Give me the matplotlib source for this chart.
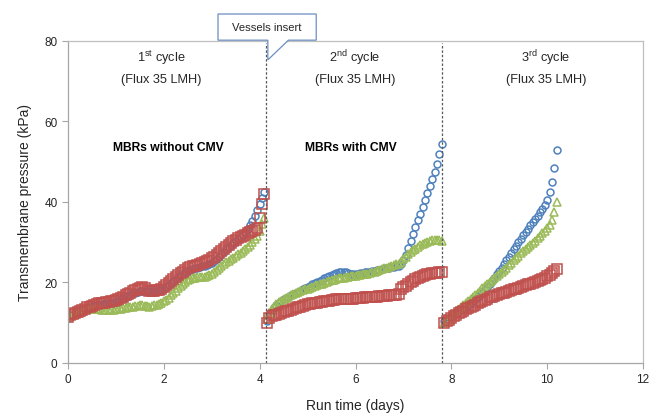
import numpy as np
import matplotlib
matplotlib.use("Agg")
import matplotlib.pyplot as plt
from matplotlib.patches import Polygon

plt.rcParams['font.family'] = ['Liberation Sans', 'DejaVu Sans']
plt.rcParams['mathtext.fontset'] = 'custom'
plt.rcParams['mathtext.rm'] = 'Liberation Sans'

# sampling times of each cycle (days)
t1 = np.round(np.arange(0.0, 4.101, 0.05), 2)
t2 = np.round(np.arange(4.15, 7.801, 0.05), 2)
t3 = np.round(np.arange(7.85, 10.201, 0.05), 2)

# 1st cycle - TMP (kPa)
blue1 = [11.3, 11.6, 11.9, 12.2, 12.5, 12.8, 13.0, 13.3, 13.6, 13.8,
         14.0, 14.2, 14.4, 14.5, 14.6, 14.7, 14.8, 14.9, 15.0, 15.1,
         15.3, 15.5, 15.8, 16.1, 16.4, 16.7, 17.0, 17.3, 17.5, 17.7,
         17.8, 17.9, 17.9, 17.8, 17.8, 17.8, 17.9, 18.0, 18.1, 18.2,
         18.4, 18.8, 19.3, 19.8, 20.3, 20.8, 21.3, 21.7, 22.1, 22.5,
         22.8, 23.1, 23.3, 23.5, 23.6, 23.8, 24.0, 24.2, 24.4, 24.6,
         24.9, 25.3, 25.8, 26.4, 27.0, 27.6, 28.2, 28.8, 29.3, 29.8,
         30.3, 30.8, 31.3, 31.9, 32.6, 33.4, 34.3, 35.3, 36.5, 38.0,
         39.5, 41.0, 42.5]
green1 = [11.5, 11.8, 12.0, 12.3, 12.5, 12.8, 13.0, 13.2, 13.4, 13.5,
          13.5, 13.5, 13.4, 13.3, 13.2, 13.2, 13.1, 13.1, 13.1, 13.2,
          13.3, 13.4, 13.5, 13.6, 13.7, 13.8, 13.9, 14.0, 14.1, 14.2,
          14.3, 14.3, 14.2, 14.1, 14.0, 14.1, 14.3, 14.5, 14.7, 15.0,
          15.3, 15.7, 16.2, 16.8, 17.4, 18.0, 18.6, 19.2, 19.7, 20.2,
          20.6, 20.9, 21.1, 21.2, 21.3, 21.3, 21.3, 21.4, 21.6, 21.9,
          22.2, 22.6, 23.0, 23.5, 24.0, 24.5, 25.0, 25.4, 25.8, 26.2,
          26.6, 27.0, 27.4, 27.8, 28.2, 28.7, 29.3, 30.0, 30.8, 31.6,
          32.8, 34.5, 36.0]
red1 = [11.5, 11.8, 12.1, 12.4, 12.7, 13.0, 13.2, 13.5, 13.8, 14.0,
        14.2, 14.4, 14.6, 14.8, 14.9, 15.0, 15.1, 15.2, 15.3, 15.4,
        15.6, 15.9, 16.2, 16.5, 16.8, 17.1, 17.4, 17.8, 18.2, 18.5,
        18.7, 18.8, 18.6, 18.2, 18.0, 17.9, 18.0, 18.1, 18.2, 18.4,
        18.8, 19.3, 19.8, 20.3, 20.8, 21.3, 21.8, 22.3, 22.7, 23.1,
        23.5, 23.8, 24.0, 24.2, 24.4, 24.6, 24.8, 25.1, 25.4, 25.7,
        26.0, 26.4, 26.8, 27.3, 27.8, 28.3, 28.8, 29.3, 29.8, 30.2,
        30.6, 31.0, 31.3, 31.6, 31.9, 32.2, 32.5, 32.8, 33.0, 33.5,
        36.0, 39.5, 42.0]

# 2nd cycle
blue2 = [10.5, 11.8, 12.8, 13.6, 14.3, 14.9, 15.4, 15.8, 16.2, 16.5,
         16.8, 17.1, 17.4, 17.7, 18.0, 18.3, 18.6, 18.9, 19.2, 19.5,
         19.8, 20.1, 20.4, 20.7, 21.0, 21.3, 21.6, 21.9, 22.1, 22.3,
         22.5, 22.6, 22.6, 22.5, 22.3, 22.2, 22.1, 22.1, 22.2, 22.3,
         22.4, 22.5, 22.6, 22.7, 22.8, 22.9, 23.0, 23.2, 23.4, 23.5,
         23.6, 23.7, 23.8, 23.9, 24.0, 24.1, 24.5, 25.5, 26.8, 28.5,
         30.2, 32.0, 33.7, 35.4, 37.1, 38.8, 40.5, 42.2, 43.9, 45.6,
         47.5, 49.5, 51.8, 54.5]
green2 = [11.0, 12.3, 13.3, 14.0, 14.6, 15.1, 15.5, 15.9, 16.2, 16.5,
          16.8, 17.1, 17.4, 17.7, 17.9, 18.1, 18.3, 18.5, 18.7, 18.9,
          19.1, 19.3, 19.5, 19.7, 19.9, 20.1, 20.3, 20.5, 20.7, 20.9,
          21.0, 21.1, 21.2, 21.3, 21.4, 21.5, 21.6, 21.7, 21.8, 21.9,
          22.0, 22.1, 22.2, 22.3, 22.5, 22.7, 22.9, 23.1, 23.3, 23.5,
          23.7, 23.9, 24.1, 24.3, 24.5, 24.7, 25.1, 25.8, 26.4, 27.0,
          27.5, 28.0, 28.4, 28.8, 29.2, 29.5, 29.8, 30.1, 30.3, 30.5,
          30.6, 30.6, 30.5, 30.4]
red2 = [10.0, 11.2, 11.6, 11.8, 12.0, 12.2, 12.4, 12.6, 12.8, 13.0,
        13.2, 13.4, 13.6, 13.8, 14.0, 14.2, 14.4, 14.6, 14.7, 14.8,
        14.9, 15.0, 15.1, 15.2, 15.3, 15.4, 15.5, 15.6, 15.7, 15.8,
        15.9, 16.0, 16.0, 16.0, 16.0, 16.0, 16.0, 16.1, 16.1, 16.2,
        16.2, 16.3, 16.3, 16.4, 16.4, 16.5, 16.5, 16.6, 16.6, 16.7,
        16.7, 16.8, 16.8, 16.9, 17.0, 17.2, 18.3, 18.8, 19.2, 19.6,
        20.0, 20.4, 20.8, 21.1, 21.4, 21.7, 21.9, 22.1, 22.2, 22.3,
        22.4, 22.4, 22.5, 22.5]

# 3rd cycle
blue3 = [10.5, 10.8, 11.2, 11.6, 12.0, 12.4, 12.8, 13.2, 13.6, 14.0,
         14.4, 14.8, 15.3, 15.8, 16.3, 16.9, 17.5, 18.1, 18.8, 19.6,
         20.4, 21.2, 22.0, 22.8, 23.7, 24.6, 25.5, 26.4, 27.3, 28.2,
         29.1, 30.0, 30.9, 31.8, 32.6, 33.4, 34.2, 35.0, 35.8, 36.6,
         37.4, 38.3, 39.3, 40.5, 42.5, 45.0, 48.5, 52.8]
green3 = [10.0, 10.6, 11.2, 11.8, 12.4, 13.0, 13.5, 14.0, 14.5, 15.0,
          15.5, 16.0, 16.5, 17.0, 17.5, 18.0, 18.6, 19.1, 19.6, 20.1,
          20.6, 21.1, 21.6, 22.1, 22.6, 23.1, 23.7, 24.3, 24.9, 25.5,
          26.1, 26.7, 27.3, 27.9, 28.4, 28.9, 29.4, 29.9, 30.4, 31.0,
          31.6, 32.2, 32.8, 33.5, 34.4, 35.6, 37.5, 40.0]
red3 = [10.0, 10.4, 10.8, 11.2, 11.6, 12.0, 12.4, 12.7, 13.0, 13.3,
        13.6, 13.9, 14.2, 14.5, 14.8, 15.1, 15.4, 15.7, 16.0, 16.3,
        16.5, 16.7, 16.9, 17.1, 17.3, 17.5, 17.7, 17.9, 18.1, 18.3,
        18.5, 18.7, 18.9, 19.1, 19.3, 19.5, 19.7, 19.9, 20.1, 20.3,
        20.6, 20.9, 21.2, 21.5, 21.9, 22.3, 22.8, 23.4]

vessel_days = [4.13, 7.81]
x_ticks = [0, 2, 4, 6, 8, 10, 12]
y_ticks = [0, 20, 40, 60, 80]

BLUE = '#4F81BD'
GREEN = '#9BBB59'
RED = '#C0504D'

fig = plt.figure(figsize=(6.51, 4.14), dpi=100)
ax = fig.add_axes([0.1045, 0.1208, 0.8832, 0.7778])

# markers - hollow, like the excel scatter
for t, b, g, r in [(t1, blue1, green1, red1), (t2, blue2, green2, red2), (t3, blue3, green3, red3)]:
    ax.plot(t, b, 'o', ms=5, mfc='none', mec=BLUE, mew=1.1)
    ax.plot(t, g, '^', ms=5.5, mfc='none', mec=GREEN, mew=1.1)
    ax.plot(t, r, 's', ms=6.5, mfc='none', mec=RED, mew=1.1)

# dashed lines where the vessels were inserted
for d in vessel_days:
    ax.axvline(d, ymin=0, ymax=0.995, color='#595959', ls=(0, (2, 1.5)), lw=0.9)

ax.set_xlim(0, 12)
ax.set_ylim(0, 80)
ax.set_xticks(x_ticks)
ax.set_yticks(y_ticks)
ax.tick_params(labelsize=8.5, colors='#a6a6a6', labelcolor='#262626', length=4, width=0.8)
for s in ax.spines.values():
    s.set_color('#bfbfbf')
    s.set_linewidth(0.9)
ax.spines['left'].set_color('#a6a6a6')
ax.spines['bottom'].set_color('#a6a6a6')

ax.set_xlabel('Run time (days)', fontsize=10, color='#262626', labelpad=9)
ax.set_ylabel('Transmembrane pressure (kPa)', fontsize=10, color='#262626', labelpad=9)

# cycle labels
txt = dict(fontsize=9.2, color='#262626', ha='center', va='center')
ax.text(1.94, 76, r'1$^{\rm st}$ cycle', **txt)
ax.text(1.94, 70.6, '(Flux 35 LMH)', **txt)
ax.text(5.99, 76, r'2$^{\rm nd}$ cycle', **txt)
ax.text(5.99, 70.6, '(Flux 35 LMH)', **txt)
ax.text(9.98, 76, r'3$^{\rm rd}$ cycle', **txt)
ax.text(9.98, 70.6, '(Flux 35 LMH)', **txt)
ax.text(2.09, 53.7, 'MBRs without CMV', fontsize=8.7, fontweight='bold', ha='center', va='center')
ax.text(5.9, 53.7, 'MBRs with CMV', fontsize=8.7, fontweight='bold', ha='center', va='center')

# callout box "Vessels insert"
call = Polygon([(3.13, 86.7), (5.18, 86.7), (5.18, 80.2), (4.6, 80.2), (4.17, 75.3),
                (4.17, 80.2), (3.13, 80.2)], closed=True, fc='white', ec='#6c8ebf',
               lw=0.9, clip_on=False, zorder=5)
ax.add_patch(call)
ax.text(4.15, 83.5, 'Vessels insert', fontsize=8.1, color='#262626', ha='center', va='center',
        zorder=6, clip_on=False)

fig.savefig('out.png', dpi=100)
